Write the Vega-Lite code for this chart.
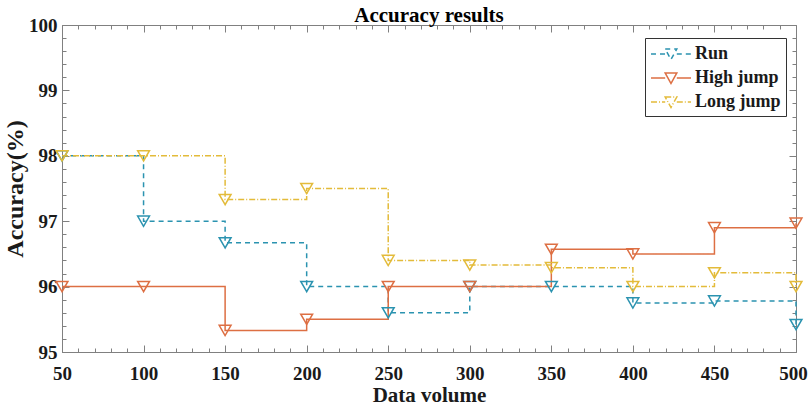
{
  "$schema": "https://vega.github.io/schema/vega-lite/v6.json",
  "width": 734,
  "height": 327,
  "autosize": "none",
  "padding": {"left": 62, "top": 25, "right": 13, "bottom": 61},
  "background": "white",
  "title": {
    "text": "Accuracy results",
    "font": "Liberation Serif",
    "fontSize": 21,
    "fontWeight": "bold",
    "color": "black",
    "anchor": "middle",
    "offset": -10
  },
  "config": {
    "view": {"stroke": "#808080", "strokeWidth": 1},
    "axis": {
      "domainColor": "#808080",
      "tickColor": "#808080",
      "labelFont": "Liberation Serif",
      "labelFontSize": 19,
      "labelFontWeight": "bold",
      "labelColor": "#1a1a1a",
      "titleFont": "Liberation Serif",
      "titleFontSize": 21,
      "titleFontWeight": "bold",
      "titleColor": "#1a1a1a",
      "grid": false
    }
  },
  "data": {
    "values": [
      {"series": "Run", "volume": 50, "acc": 98},
      {"series": "Run", "volume": 100, "acc": 97},
      {"series": "Run", "volume": 150, "acc": 96.67},
      {"series": "Run", "volume": 200, "acc": 96},
      {"series": "Run", "volume": 250, "acc": 95.6},
      {"series": "Run", "volume": 300, "acc": 96},
      {"series": "Run", "volume": 350, "acc": 96},
      {"series": "Run", "volume": 400, "acc": 95.75},
      {"series": "Run", "volume": 450, "acc": 95.78},
      {"series": "Run", "volume": 500, "acc": 95.42},
      {"series": "High jump", "volume": 50, "acc": 96},
      {"series": "High jump", "volume": 100, "acc": 96},
      {"series": "High jump", "volume": 150, "acc": 95.33},
      {"series": "High jump", "volume": 200, "acc": 95.5},
      {"series": "High jump", "volume": 250, "acc": 96},
      {"series": "High jump", "volume": 300, "acc": 96},
      {"series": "High jump", "volume": 350, "acc": 96.57},
      {"series": "High jump", "volume": 400, "acc": 96.5},
      {"series": "High jump", "volume": 450, "acc": 96.9},
      {"series": "High jump", "volume": 500, "acc": 96.97},
      {"series": "Long jump", "volume": 50, "acc": 98},
      {"series": "Long jump", "volume": 100, "acc": 98},
      {"series": "Long jump", "volume": 150, "acc": 97.33},
      {"series": "Long jump", "volume": 200, "acc": 97.5},
      {"series": "Long jump", "volume": 250, "acc": 96.4},
      {"series": "Long jump", "volume": 300, "acc": 96.33},
      {"series": "Long jump", "volume": 350, "acc": 96.29},
      {"series": "Long jump", "volume": 400, "acc": 96},
      {"series": "Long jump", "volume": 450, "acc": 96.21},
      {"series": "Long jump", "volume": 500, "acc": 96}
    ]
  },
  "resolve": {"axis": {"x": "independent", "y": "independent"}},
  "layer": [
    {
      "mark": {"type": "line", "interpolate": "step-after", "strokeWidth": 1.5},
      "encoding": {
        "x": {
          "field": "volume", "type": "quantitative",
          "scale": {"domain": [50, 500], "nice": false, "zero": false},
          "axis": {
            "orient": "bottom",
            "title": "Data volume",
            "values": [50,60,70,80,90,100,110,120,130,140,150,160,170,180,190,200,210,220,230,240,250,260,270,280,290,300,310,320,330,340,350,360,370,380,390,400,410,420,430,440,450,460,470,480,490,500],
            "labelExpr": "datum.value % 50 === 0 ? format(datum.value, 'd') : ''",
            "tickSize": {"condition": {"test": "datum.value % 50 === 0", "value": -7}, "value": -4},
            "labelOffset": {"condition": {"test": "datum.value === 500", "value": -3}, "value": 0},
            "labelPadding": 19,
            "labelFlush": false,
            "labelOverlap": false,
            "titlePadding": -2
          }
        },
        "y": {
          "field": "acc", "type": "quantitative",
          "scale": {"domain": [95, 100], "nice": false, "zero": false},
          "axis": {
            "orient": "left",
            "title": "Accuracy(%)",
            "titleFontSize": 24,
            "values": [95,95.2,95.4,95.6,95.8,96,96.2,96.4,96.6,96.8,97,97.2,97.4,97.6,97.8,98,98.2,98.4,98.6,98.8,99,99.2,99.4,99.6,99.8,100],
            "labelExpr": "abs(datum.value - round(datum.value)) < 0.01 ? format(datum.value, 'd') : ''",
            "tickSize": {"condition": {"test": "abs(datum.value - round(datum.value)) < 0.01", "value": -7}, "value": -4},
            "labelPadding": 12,
            "labelFlush": false,
            "labelOverlap": false,
            "titlePadding": 1
          }
        },
        "color": {
          "field": "series", "type": "nominal",
          "scale": {"domain": ["Run", "High jump", "Long jump"], "range": ["#2b93b0", "#dd6f43", "#e3bb3a"]},
          "legend": {
            "title": null,
            "orient": "none",
            "legendX": 583,
            "legendY": 13,
            "direction": "vertical",
            "padding": 5,
            "strokeColor": "#333333",
            "fillColor": "white",
            "symbolType": "M-1,0 H0.42 M1.58,0 H3 M0.42,-0.5 H1.58 L1,0.55 Z",
            "symbolSize": 400,
            "symbolStrokeWidth": 1.5,
            "labelOffset": 23,
            "rowPadding": 4,
            "labelFont": "Liberation Serif",
            "labelFontSize": 18,
            "labelFontWeight": "bold",
            "labelColor": "#1a1a1a"
          }
        },
        "strokeDash": {
          "field": "series", "type": "nominal",
          "scale": {"domain": ["Run", "High jump", "Long jump"], "range": [[5, 4], [1, 0], [6, 2, 1, 2]]},
          "legend": {
            "title": null,
            "orient": "none",
            "legendX": 583,
            "legendY": 13,
            "direction": "vertical",
            "padding": 5,
            "strokeColor": "#333333",
            "fillColor": "white",
            "symbolType": "M-1,0 H0.42 M1.58,0 H3 M0.42,-0.5 H1.58 L1,0.55 Z",
            "symbolSize": 400,
            "symbolStrokeWidth": 1.5,
            "labelOffset": 23,
            "rowPadding": 4,
            "labelFont": "Liberation Serif",
            "labelFontSize": 18,
            "labelFontWeight": "bold",
            "labelColor": "#1a1a1a"
          }
        }
      }
    },
    {
      "mark": {"type": "point", "shape": "triangle-down", "filled": false, "fill": "white", "fillOpacity": 0, "size": 140, "strokeWidth": 1.5, "opacity": 1},
      "encoding": {
        "x": {
          "field": "volume", "type": "quantitative",
          "axis": {
            "orient": "top",
            "title": null,
            "labels": false,
            "domain": false,
            "values": [50,60,70,80,90,100,110,120,130,140,150,160,170,180,190,200,210,220,230,240,250,260,270,280,290,300,310,320,330,340,350,360,370,380,390,400,410,420,430,440,450,460,470,480,490,500],
            "tickSize": {"condition": {"test": "datum.value % 50 === 0", "value": -7}, "value": -4}
          }
        },
        "y": {
          "field": "acc", "type": "quantitative",
          "axis": {
            "orient": "right",
            "title": null,
            "labels": false,
            "domain": false,
            "values": [95,95.2,95.4,95.6,95.8,96,96.2,96.4,96.6,96.8,97,97.2,97.4,97.6,97.8,98,98.2,98.4,98.6,98.8,99,99.2,99.4,99.6,99.8,100],
            "tickSize": {"condition": {"test": "abs(datum.value - round(datum.value)) < 0.01", "value": -7}, "value": -4}
          }
        },
        "color": {"field": "series", "type": "nominal", "legend": null}
      }
    }
  ]
}
